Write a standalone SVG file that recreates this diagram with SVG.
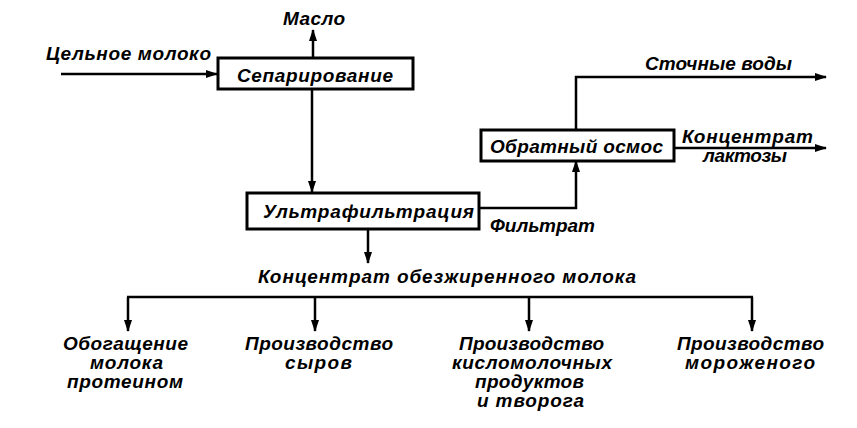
<svg xmlns="http://www.w3.org/2000/svg" width="857" height="428" viewBox="0 0 857 428">
<style>
text{font-family:"Liberation Sans","DejaVu Sans",sans-serif;font-style:italic;font-weight:bold;font-size:19px;fill:#000}
.box{fill:#fff;stroke:#000;stroke-width:3}
.ln{fill:none;stroke:#000;stroke-width:2.5}
</style>
<defs>
<marker id="ah" markerUnits="userSpaceOnUse" markerWidth="12" markerHeight="8" refX="11" refY="4" orient="auto">
<path d="M0,0 L12,4 L0,8 Z" fill="#000"/>
</marker>
</defs>
<g id="connectors">
<line class="ln" x1="61" y1="74" x2="217" y2="74" marker-end="url(#ah)"/>
<line class="ln" x1="313" y1="57" x2="313" y2="30" marker-end="url(#ah)"/>
<line class="ln" x1="312" y1="90" x2="312" y2="192" marker-end="url(#ah)"/>
<line class="ln" x1="368" y1="230" x2="368" y2="263" marker-end="url(#ah)"/>
<polyline class="ln" points="480,208 576,208 576,161" marker-end="url(#ah)"/>
<polyline class="ln" points="576,129 576,77 826,77" marker-end="url(#ah)"/>
<line class="ln" x1="675" y1="148" x2="826" y2="148" marker-end="url(#ah)"/>
<line class="ln" x1="127" y1="297" x2="753" y2="297"/>
<line class="ln" x1="128" y1="297" x2="128" y2="331" marker-end="url(#ah)"/>
<line class="ln" x1="315" y1="297" x2="315" y2="331" marker-end="url(#ah)"/>
<line class="ln" x1="529" y1="297" x2="529" y2="331" marker-end="url(#ah)"/>
<line class="ln" x1="752" y1="297" x2="752" y2="331" marker-end="url(#ah)"/>
</g>
<g id="node-separation">
<rect class="box" x="218" y="58" width="195" height="31"/>
<text x="237" y="82" textLength="156">Сепарирование</text>
</g>
<g id="node-ultrafiltration">
<rect class="box" x="247" y="193" width="232" height="36"/>
<text x="263" y="218" textLength="211">Ультрафильтрация</text>
</g>
<g id="node-osmosis">
<rect class="box" x="481" y="130" width="193" height="31"/>
<text x="490" y="153" textLength="173">Обратный осмос</text>
</g>
<g id="labels">
<text x="283" y="25" textLength="62">Масло</text>
<text x="46" y="60" textLength="165">Цельное молоко</text>
<text x="490" y="232" textLength="105">Фильтрат</text>
<text x="645" y="70" textLength="147">Сточные воды</text>
<text x="682" y="143" textLength="131">Концентрат</text>
<text x="703" y="162" textLength="84">лактозы</text>
<text x="258" y="283" textLength="378">Концентрат обезжиренного молока</text>
</g>
<g id="node-protein">
<text x="63" y="350" textLength="125">Обогащение</text>
<text x="90" y="369" textLength="73">молока</text>
<text x="67" y="388" textLength="116">протеином</text>
</g>
<g id="node-cheese">
<text x="245" y="350" textLength="148">Производство</text>
<text x="285" y="369" textLength="67">сыров</text>
</g>
<g id="node-sourmilk">
<text x="459" y="350" textLength="145">Производство</text>
<text x="452" y="369" textLength="160">кисломолочных</text>
<text x="475" y="388" textLength="109">продуктов</text>
<text x="477" y="407" textLength="107">и творога</text>
</g>
<g id="node-icecream">
<text x="677" y="350" textLength="147">Производство</text>
<text x="685" y="369" textLength="130">мороженого</text>
</g>
</svg>
